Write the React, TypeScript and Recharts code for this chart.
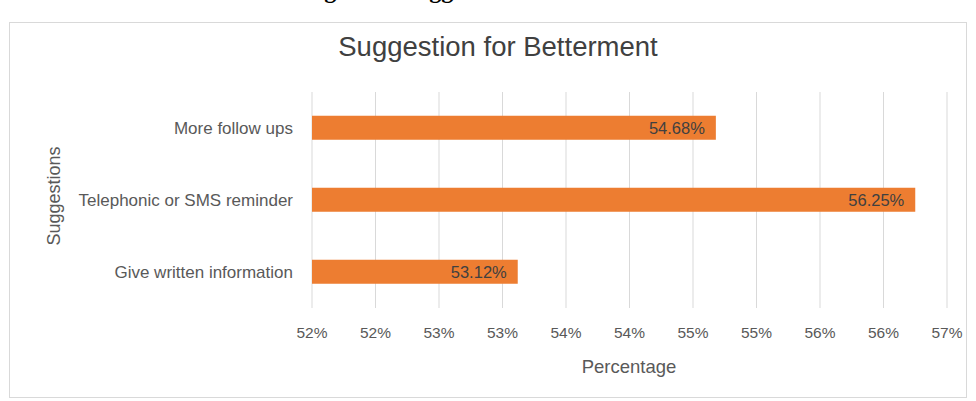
import { Bar, BarChart, CartesianGrid, LabelList, XAxis, YAxis } from "recharts";

const categories = ["More follow ups", "Telephonic or SMS reminder", "Give written information"];
const percentages = [54.68, 56.25, 53.12];
const tickValues = [51.5, 52, 52.5, 53, 53.5, 54, 54.5, 55, 55.5, 56, 56.5];
const tickLabels = ["52%", "52%", "53%", "53%", "54%", "54%", "55%", "55%", "56%", "56%", "57%"];

const data = categories.map((name, i) => ({ name, value: percentages[i] }));

const FONT = "'Liberation Sans', Arial, sans-serif";

export default function App() {
  return (
    <div style={{ position: "relative", width: 976, height: 401, background: "#fff", overflow: "hidden", fontFamily: FONT }}>
      <style>{`body{margin:0}`}</style>

      {/* caption from the page above, mostly cut off */}
      <div
        style={{
          position: "absolute",
          top: -22,
          left: 303,
          lineHeight: "24px",
          fontFamily: "'Liberation Serif', 'Times New Roman', serif",
          fontWeight: "bold",
          fontSize: 24,
          color: "#000",
          whiteSpace: "nowrap",
        }}
      >
        Figure 6: Suggestion for Betterment
      </div>

      {/* chart frame */}
      <div
        style={{
          position: "absolute",
          left: 9,
          top: 22,
          width: 958,
          height: 376,
          border: "1px solid #d9d9d9",
          boxSizing: "border-box",
        }}
      />

      <div
        style={{
          position: "absolute",
          top: 31,
          left: 0,
          width: 996,
          textAlign: "center",
          fontSize: 27.5,
          color: "#404040",
        }}
      >
        Suggestion for Betterment
      </div>

      <div
        style={{
          position: "absolute",
          left: 54,
          top: 196,
          transform: "translate(-50%, -50%) rotate(-90deg)",
          fontSize: 18,
          color: "#595959",
          whiteSpace: "nowrap",
        }}
      >
        Suggestions
      </div>

      <div
        style={{
          position: "absolute",
          left: 629,
          top: 367,
          transform: "translate(-50%, -50%)",
          fontSize: 18.5,
          color: "#595959",
          whiteSpace: "nowrap",
        }}
      >
        Percentage
      </div>

      <div style={{ position: "absolute", left: 0, top: 0 }}>
        <BarChart
          width={976}
          height={401}
          data={data}
          layout="vertical"
          margin={{ top: 92, right: 29, bottom: 63, left: 32 }}
          barCategoryGap="33%"
        >
          <CartesianGrid horizontal={false} stroke="#d9d9d9" />
          <XAxis
            type="number"
            domain={[51.5, 56.5]}
            ticks={tickValues}
            tickFormatter={(_v: number, i: number) => tickLabels[i]}
            axisLine={false}
            tickLine={false}
            height={30}
            tickMargin={13}
            tick={{ fill: "#595959", fontSize: 15.5, fontFamily: FONT }}
            allowDataOverflow
          />
          <YAxis
            type="category"
            dataKey="name"
            width={280}
            axisLine={false}
            tickLine={false}
            tickMargin={13}
            tick={{ fill: "#595959", fontSize: 17, fontFamily: FONT }}
          />
          <Bar dataKey="value" fill="#ED7D31" isAnimationActive={false}>
            <LabelList
              dataKey="value"
              position="insideRight"
              offset={11}
              formatter={(v: number) => `${v.toFixed(2)}%`}
              style={{ fill: "#404040", fontSize: 16.5, fontFamily: FONT }}
            />
          </Bar>
        </BarChart>
      </div>
    </div>
  );
}
